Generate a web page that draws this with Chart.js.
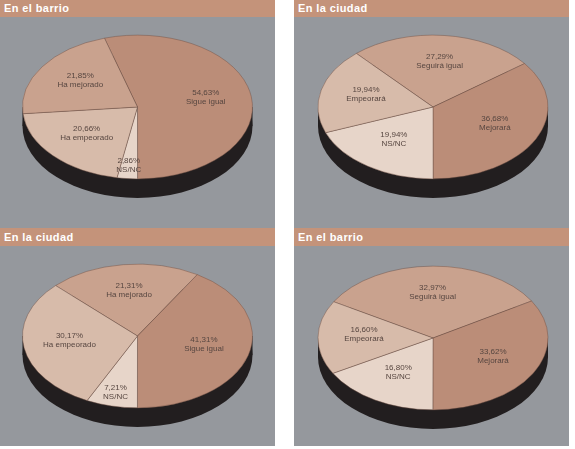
<!DOCTYPE html>
<html>
<head>
<meta charset="utf-8">
<script src="https://cdn.jsdelivr.net/npm/chart.js@4.4.1/dist/chart.umd.min.js"></script>
<style>
    body { margin: 0; background: #fff; width: 575px; height: 449px; position: relative; overflow: hidden; }
    .panel { position: absolute; width: 275px; }
    .head {
        background: #c4937a; color: #fff; font: bold 11px "Liberation Sans", Arial, sans-serif;
        letter-spacing: 0.4px; padding-left: 4px; box-sizing: border-box;
    }
    canvas { display: block; background: #95989d; }
</style>
</head>
<body>
<div class="panel" style="left:0;top:0">
    <div class="head" style="height:17px;line-height:16px">En el barrio</div>
    <canvas id="c1" width="275" height="211"></canvas>
</div>
<div class="panel" style="left:294px;top:0">
    <div class="head" style="height:17px;line-height:16px">En la ciudad</div>
    <canvas id="c2" width="275" height="211"></canvas>
</div>
<div class="panel" style="left:0;top:228px">
    <div class="head" style="height:18px;line-height:18px">En la ciudad</div>
    <canvas id="c3" width="275" height="200"></canvas>
</div>
<div class="panel" style="left:294px;top:228px">
    <div class="head" style="height:18px;line-height:18px">En el barrio</div>
    <canvas id="c4" width="275" height="200"></canvas>
</div>
<script>
// datos
const barrioAhoraLabels = ["Sigue igual", "NS/NC", "Ha empeorado", "Ha mejorado"];
const barrioAhoraValues = [54.63, 2.86, 20.66, 21.85];

const ciudadFuturoLabels = ["Seguirá igual", "Mejorará", "NS/NC", "Empeorará"];
const ciudadFuturoValues = [27.29, 36.68, 19.94, 19.94];

const ciudadAhoraLabels = ["Ha mejorado", "Sigue igual", "NS/NC", "Ha empeorado"];
const ciudadAhoraValues = [21.31, 41.31, 7.21, 30.17];

const barrioFuturoLabels = ["Seguirá igual", "Mejorará", "NS/NC", "Empeorará"];
const barrioFuturoValues = [32.97, 33.62, 16.80, 16.60];

const colores = {
    "Sigue igual": "#bb8d78",
    "Mejorará": "#bb8d78",
    "Ha mejorado": "#c9a28e",
    "Seguirá igual": "#c9a28e",
    "Ha empeorado": "#d7bbaa",
    "Empeorará": "#d7bbaa",
    "NS/NC": "#e7d5c9"
};

const SQUASH = 0.625;
const DEPTH = 19;

// pastel en "3D": lado negro + cara aplastada
const pie3d = {
    id: "pie3d",
    beforeDatasetsDraw(chart) {
        const arc = chart.getDatasetMeta(0).data[0];
        const ctx = chart.ctx;
        const cx = arc.x, cy = arc.y, r = arc.outerRadius;
        ctx.save();
        ctx.fillStyle = "#221e1f";
        ctx.beginPath();
        ctx.ellipse(cx, cy + DEPTH, r, r * SQUASH, 0, 0, Math.PI * 2);
        ctx.fill();
        ctx.fillRect(cx - r, cy, r * 2, DEPTH);
        ctx.restore();

        ctx.save();
        ctx.translate(0, cy);
        ctx.scale(1, SQUASH);
        ctx.translate(0, -cy);
    },
    afterDatasetsDraw(chart) {
        const ctx = chart.ctx;
        ctx.restore();
        const meta = chart.getDatasetMeta(0);
        const values = chart.data.datasets[0].data;
        ctx.save();
        ctx.font = "8px 'Liberation Sans', Arial, sans-serif";
        ctx.fillStyle = "#574640";
        ctx.textAlign = "center";
        ctx.textBaseline = "middle";
        meta.data.forEach((arc, i) => {
            const mid = (arc.startAngle + arc.endAngle) / 2;
            const f = values[i] < 10 ? 0.85 : 0.6;
            const x = arc.x + Math.cos(mid) * arc.outerRadius * f;
            const y = arc.y + Math.sin(mid) * arc.outerRadius * f * SQUASH - 3;
            ctx.fillText(values[i].toFixed(2).replace(".", ",") + "%", x, y - 4.5);
            ctx.fillText(chart.data.labels[i], x, y + 4.5);
        });
        ctx.restore();
    }
};

function pieChart(id, labels, values, rotation, padding) {
    new Chart(document.querySelector(id), {
        type: "pie",
        data: {
            labels: labels,
            datasets: [{
                data: values,
                backgroundColor: labels.map(l => colores[l]),
                borderColor: "rgba(110,80,68,0.7)",
                borderWidth: 0.8,
                clip: false
            }]
        },
        options: {
            responsive: false,
            animation: false,
            radius: 115,
            rotation: rotation,
            layout: { padding: padding },
            plugins: { legend: { display: false }, tooltip: { enabled: false } }
        },
        plugins: [pie3d]
    });
}

pieChart("#c1", barrioAhoraLabels, barrioAhoraValues, -16.7, { bottom: 31 });
pieChart("#c2", ciudadFuturoLabels, ciudadFuturoValues, -41.8, { bottom: 31, left: 3 });
pieChart("#c3", ciudadAhoraLabels, ciudadAhoraValues, -45.4, { bottom: 20 });
pieChart("#c4", barrioFuturoLabels, barrioFuturoValues, -59.7, { bottom: 16, left: 3 });
</script>
</body>
</html>
